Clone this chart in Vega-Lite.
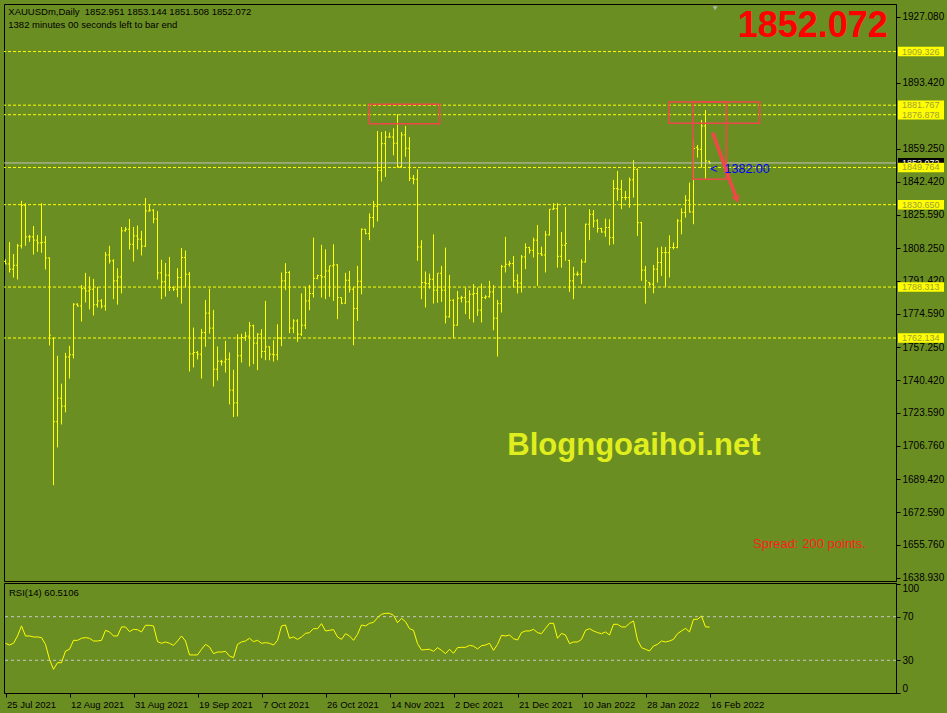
{
"$schema": "https://vega.github.io/schema/vega-lite/v6.json",
"background": "#6B8E23",
"padding": {"left": 3, "top": 3, "right": 2, "bottom": 6},
"config": {"font": "Liberation Sans", "view": {"stroke": "#000000", "strokeWidth": 1}, "axis": {"grid": false, "labelColor": "#000000", "domainColor": "#000000", "tickColor": "#000000", "domainWidth": 1, "tickWidth": 1}},
"datasets": {
"bars": [
{"i":0,"o":1801.5,"h":1802.6,"l":1800.0,"c":1800.2,"r":45.6},
{"i":1,"o":1800.2,"h":1811.5,"l":1795.8,"c":1797.5,"r":44.0},
{"i":2,"o":1797.5,"h":1805.3,"l":1793.2,"c":1799.5,"r":45.6},
{"i":3,"o":1799.5,"h":1810.5,"l":1792.2,"c":1809.5,"r":52.3},
{"i":4,"o":1809.5,"h":1832.6,"l":1808.1,"c":1830.3,"r":61.5},
{"i":5,"o":1830.3,"h":1831.4,"l":1809.5,"c":1814.1,"r":52.3},
{"i":6,"o":1814.1,"h":1815.1,"l":1811.5,"c":1814.1,"r":52.3},
{"i":7,"o":1814.1,"h":1819.7,"l":1805.0,"c":1812.4,"r":51.4},
{"i":8,"o":1812.4,"h":1815.1,"l":1806.4,"c":1811.0,"r":51.4},
{"i":9,"o":1811.0,"h":1831.4,"l":1805.9,"c":1811.3,"r":50.8},
{"i":10,"o":1811.3,"h":1814.6,"l":1797.3,"c":1803.3,"r":44.6},
{"i":11,"o":1803.3,"h":1803.5,"l":1758.3,"c":1763.6,"r":30.9},
{"i":12,"o":1762.0,"h":1762.4,"l":1686.5,"c":1719.1,"r":21.7},
{"i":13,"o":1719.1,"h":1753.0,"l":1705.9,"c":1731.2,"r":27.8},
{"i":14,"o":1731.2,"h":1738.7,"l":1717.7,"c":1727.1,"r":27.8},
{"i":15,"o":1727.1,"h":1754.5,"l":1723.9,"c":1752.4,"r":38.5},
{"i":16,"o":1752.4,"h":1758.1,"l":1741.3,"c":1753.5,"r":40.1},
{"i":17,"o":1753.5,"h":1780.0,"l":1751.6,"c":1779.5,"r":48.3},
{"i":18,"o":1779.5,"h":1780.0,"l":1778.3,"c":1778.6,"r":48.3},
{"i":19,"o":1778.6,"h":1789.4,"l":1770.6,"c":1787.5,"r":50.2},
{"i":20,"o":1787.5,"h":1795.6,"l":1780.4,"c":1786.3,"r":50.8},
{"i":21,"o":1786.3,"h":1793.7,"l":1776.8,"c":1787.2,"r":50.2},
{"i":22,"o":1787.2,"h":1792.5,"l":1773.7,"c":1779.2,"r":47.7},
{"i":23,"o":1779.2,"h":1788.4,"l":1777.8,"c":1781.2,"r":47.7},
{"i":24,"o":1781.2,"h":1782.1,"l":1777.3,"c":1778.5,"r":48.3},
{"i":25,"o":1778.5,"h":1806.4,"l":1776.2,"c":1804.8,"r":57.5},
{"i":26,"o":1804.8,"h":1809.5,"l":1800.4,"c":1801.8,"r":56.0},
{"i":27,"o":1801.8,"h":1802.6,"l":1782.1,"c":1791.5,"r":52.3},
{"i":28,"o":1791.5,"h":1798.0,"l":1779.3,"c":1793.5,"r":52.3},
{"i":29,"o":1793.5,"h":1819.2,"l":1785.0,"c":1817.2,"r":60.6},
{"i":30,"o":1817.2,"h":1819.2,"l":1816.8,"c":1818.0,"r":60.6},
{"i":31,"o":1818.0,"h":1823.3,"l":1807.6,"c":1810.3,"r":56.3},
{"i":32,"o":1810.3,"h":1819.2,"l":1801.4,"c":1814.6,"r":58.4},
{"i":33,"o":1814.6,"h":1819.9,"l":1807.6,"c":1812.9,"r":58.1},
{"i":34,"o":1812.9,"h":1817.2,"l":1804.5,"c":1809.3,"r":56.0},
{"i":35,"o":1809.3,"h":1834.1,"l":1808.9,"c":1827.4,"r":62.1},
{"i":36,"o":1827.4,"h":1830.5,"l":1827.1,"c":1827.8,"r":62.1},
{"i":37,"o":1827.8,"h":1828.3,"l":1821.1,"c":1823.3,"r":61.5},
{"i":38,"o":1823.3,"h":1827.4,"l":1792.2,"c":1795.6,"r":47.1},
{"i":39,"o":1795.6,"h":1802.3,"l":1782.1,"c":1791.0,"r":45.6},
{"i":40,"o":1791.0,"h":1800.7,"l":1783.4,"c":1794.4,"r":46.8},
{"i":41,"o":1794.4,"h":1803.8,"l":1786.3,"c":1788.1,"r":45.6},
{"i":42,"o":1788.1,"h":1788.7,"l":1786.3,"c":1787.2,"r":43.7},
{"i":43,"o":1787.2,"h":1798.0,"l":1783.1,"c":1793.2,"r":47.7},
{"i":44,"o":1793.2,"h":1808.4,"l":1779.8,"c":1803.5,"r":52.3},
{"i":45,"o":1803.5,"h":1807.1,"l":1788.1,"c":1794.9,"r":47.7},
{"i":46,"o":1794.9,"h":1796.1,"l":1744.9,"c":1754.0,"r":34.9},
{"i":47,"o":1754.0,"h":1767.5,"l":1747.0,"c":1754.7,"r":34.9},
{"i":48,"o":1754.7,"h":1755.5,"l":1751.1,"c":1753.8,"r":34.9},
{"i":49,"o":1753.8,"h":1766.8,"l":1741.3,"c":1764.9,"r":40.1},
{"i":50,"o":1764.9,"h":1781.7,"l":1757.6,"c":1774.9,"r":44.6},
{"i":51,"o":1774.9,"h":1787.5,"l":1764.4,"c":1767.2,"r":42.2},
{"i":52,"o":1767.2,"h":1776.6,"l":1737.2,"c":1746.1,"r":36.1},
{"i":53,"o":1746.1,"h":1757.8,"l":1740.3,"c":1750.2,"r":37.6},
{"i":54,"o":1750.2,"h":1750.9,"l":1748.0,"c":1749.9,"r":37.6},
{"i":55,"o":1749.9,"h":1760.7,"l":1744.4,"c":1751.2,"r":38.2},
{"i":56,"o":1751.2,"h":1754.7,"l":1728.0,"c":1735.3,"r":33.9},
{"i":57,"o":1735.3,"h":1745.8,"l":1721.5,"c":1728.8,"r":32.4},
{"i":58,"o":1728.8,"h":1764.1,"l":1721.8,"c":1753.0,"r":44.6},
{"i":59,"o":1753.0,"h":1764.3,"l":1749.5,"c":1762.4,"r":46.8},
{"i":60,"o":1762.4,"h":1765.3,"l":1760.7,"c":1763.1,"r":47.7},
{"i":61,"o":1763.1,"h":1770.4,"l":1747.5,"c":1768.4,"r":50.2},
{"i":62,"o":1768.4,"h":1769.0,"l":1748.7,"c":1759.5,"r":47.1},
{"i":63,"o":1759.5,"h":1764.6,"l":1745.6,"c":1764.1,"r":48.3},
{"i":64,"o":1764.1,"h":1766.7,"l":1751.8,"c":1755.2,"r":45.6},
{"i":65,"o":1755.2,"h":1781.2,"l":1750.7,"c":1757.6,"r":46.2},
{"i":66,"o":1757.6,"h":1757.9,"l":1750.7,"c":1753.8,"r":45.6},
{"i":67,"o":1753.8,"h":1761.0,"l":1750.0,"c":1753.5,"r":44.0},
{"i":68,"o":1753.5,"h":1769.2,"l":1750.7,"c":1762.0,"r":48.3},
{"i":69,"o":1762.0,"h":1795.8,"l":1757.9,"c":1791.5,"r":61.5},
{"i":70,"o":1791.5,"h":1800.6,"l":1786.7,"c":1795.8,"r":62.4},
{"i":71,"o":1795.8,"h":1796.6,"l":1764.6,"c":1767.2,"r":50.2},
{"i":72,"o":1767.2,"h":1771.8,"l":1764.6,"c":1770.9,"r":51.4},
{"i":73,"o":1770.9,"h":1771.8,"l":1760.1,"c":1764.1,"r":49.2},
{"i":74,"o":1764.1,"h":1785.1,"l":1763.2,"c":1768.7,"r":51.4},
{"i":75,"o":1768.7,"h":1788.4,"l":1766.7,"c":1781.2,"r":54.7},
{"i":76,"o":1781.2,"h":1789.4,"l":1776.4,"c":1785.0,"r":55.4},
{"i":77,"o":1785.0,"h":1813.7,"l":1782.9,"c":1792.8,"r":59.0},
{"i":78,"o":1792.8,"h":1794.6,"l":1792.3,"c":1794.2,"r":59.0},
{"i":79,"o":1794.2,"h":1810.0,"l":1782.9,"c":1793.5,"r":63.6},
{"i":80,"o":1793.5,"h":1807.7,"l":1782.1,"c":1796.6,"r":56.9},
{"i":81,"o":1796.6,"h":1799.2,"l":1783.3,"c":1799.2,"r":57.5},
{"i":82,"o":1799.2,"h":1810.3,"l":1781.2,"c":1799.7,"r":58.1},
{"i":83,"o":1799.7,"h":1800.0,"l":1771.8,"c":1782.9,"r":51.4},
{"i":84,"o":1782.9,"h":1782.9,"l":1779.5,"c":1780.0,"r":49.2},
{"i":85,"o":1780.0,"h":1795.6,"l":1779.8,"c":1791.8,"r":54.4},
{"i":86,"o":1791.8,"h":1796.6,"l":1785.5,"c":1787.2,"r":52.3},
{"i":87,"o":1787.2,"h":1788.4,"l":1758.4,"c":1777.3,"r":48.3},
{"i":88,"o":1777.3,"h":1799.2,"l":1770.9,"c":1791.3,"r":53.8},
{"i":89,"o":1791.3,"h":1818.4,"l":1784.6,"c":1818.0,"r":62.4},
{"i":90,"o":1818.0,"h":1818.2,"l":1815.4,"c":1815.8,"r":61.5},
{"i":91,"o":1815.8,"h":1826.2,"l":1812.4,"c":1824.0,"r":63.9},
{"i":92,"o":1824.0,"h":1832.6,"l":1818.9,"c":1829.8,"r":64.8},
{"i":93,"o":1829.8,"h":1868.5,"l":1822.0,"c":1848.3,"r":69.1},
{"i":94,"o":1848.3,"h":1868.0,"l":1842.5,"c":1862.0,"r":72.2},
{"i":95,"o":1862.0,"h":1868.5,"l":1844.9,"c":1865.4,"r":73.1},
{"i":96,"o":1865.4,"h":1867.7,"l":1865.1,"c":1865.4,"r":73.1},
{"i":97,"o":1865.4,"h":1869.9,"l":1856.0,"c":1862.2,"r":71.3},
{"i":98,"o":1862.2,"h":1877.1,"l":1849.7,"c":1850.2,"r":64.5},
{"i":99,"o":1850.2,"h":1868.0,"l":1849.7,"c":1866.5,"r":68.5},
{"i":100,"o":1866.5,"h":1871.1,"l":1855.2,"c":1859.6,"r":65.4},
{"i":101,"o":1859.6,"h":1865.4,"l":1842.8,"c":1844.2,"r":59.0},
{"i":102,"o":1844.2,"h":1845.9,"l":1841.1,"c":1843.7,"r":57.5},
{"i":103,"o":1843.7,"h":1848.8,"l":1801.8,"c":1808.9,"r":45.3},
{"i":104,"o":1808.9,"h":1812.4,"l":1782.1,"c":1790.6,"r":39.5},
{"i":105,"o":1790.6,"h":1796.3,"l":1777.8,"c":1790.1,"r":39.8},
{"i":106,"o":1790.1,"h":1795.2,"l":1787.5,"c":1792.3,"r":40.1},
{"i":107,"o":1792.3,"h":1815.4,"l":1779.8,"c":1786.7,"r":38.2},
{"i":108,"o":1786.7,"h":1795.4,"l":1780.2,"c":1795.4,"r":41.6},
{"i":109,"o":1795.4,"h":1799.2,"l":1780.7,"c":1786.7,"r":39.1},
{"i":110,"o":1786.7,"h":1808.6,"l":1769.6,"c":1773.0,"r":36.1},
{"i":111,"o":1773.0,"h":1794.6,"l":1772.6,"c":1781.5,"r":40.1},
{"i":112,"o":1781.5,"h":1782.1,"l":1762.0,"c":1768.7,"r":36.4},
{"i":113,"o":1768.7,"h":1786.3,"l":1768.5,"c":1782.6,"r":41.6},
{"i":114,"o":1782.6,"h":1783.8,"l":1780.4,"c":1782.9,"r":41.9},
{"i":115,"o":1782.9,"h":1788.1,"l":1774.4,"c":1780.7,"r":41.9},
{"i":116,"o":1780.7,"h":1786.7,"l":1771.8,"c":1784.6,"r":43.7},
{"i":117,"o":1784.6,"h":1789.8,"l":1770.1,"c":1785.0,"r":43.0},
{"i":118,"o":1785.0,"h":1788.1,"l":1773.5,"c":1776.4,"r":40.4},
{"i":119,"o":1776.4,"h":1790.1,"l":1770.1,"c":1782.9,"r":43.4},
{"i":120,"o":1782.9,"h":1784.1,"l":1782.1,"c":1783.3,"r":44.0},
{"i":121,"o":1783.3,"h":1791.5,"l":1782.9,"c":1785.8,"r":45.6},
{"i":122,"o":1785.8,"h":1789.3,"l":1766.1,"c":1772.3,"r":39.1},
{"i":123,"o":1772.3,"h":1781.7,"l":1752.6,"c":1779.8,"r":44.6},
{"i":124,"o":1779.8,"h":1799.7,"l":1775.2,"c":1798.8,"r":52.9},
{"i":125,"o":1798.8,"h":1814.1,"l":1795.8,"c":1800.0,"r":52.3},
{"i":126,"o":1800.0,"h":1801.8,"l":1798.8,"c":1800.4,"r":53.2},
{"i":127,"o":1800.4,"h":1804.3,"l":1788.1,"c":1791.5,"r":49.8},
{"i":128,"o":1791.5,"h":1794.9,"l":1785.0,"c":1790.3,"r":48.6},
{"i":129,"o":1790.3,"h":1804.8,"l":1785.5,"c":1803.8,"r":55.4},
{"i":130,"o":1803.8,"h":1810.8,"l":1797.5,"c":1808.6,"r":56.9},
{"i":131,"o":1808.6,"h":1809.0,"l":1805.5,"c":1807.2,"r":56.9},
{"i":132,"o":1807.2,"h":1813.7,"l":1803.5,"c":1812.4,"r":58.4},
{"i":133,"o":1812.4,"h":1820.2,"l":1788.9,"c":1805.5,"r":55.4},
{"i":134,"o":1805.5,"h":1809.1,"l":1804.3,"c":1804.8,"r":54.4},
{"i":135,"o":1804.8,"h":1817.2,"l":1795.8,"c":1815.1,"r":59.3},
{"i":136,"o":1815.1,"h":1828.3,"l":1814.8,"c":1828.3,"r":63.9},
{"i":137,"o":1828.3,"h":1831.4,"l":1828.0,"c":1828.6,"r":63.9},
{"i":138,"o":1828.6,"h":1831.4,"l":1798.3,"c":1804.1,"r":50.2},
{"i":139,"o":1804.1,"h":1816.6,"l":1798.3,"c":1809.8,"r":54.7},
{"i":140,"o":1809.8,"h":1829.5,"l":1801.8,"c":1810.7,"r":53.2},
{"i":141,"o":1802.0,"h":1802.3,"l":1785.8,"c":1791.5,"r":45.3},
{"i":142,"o":1791.5,"h":1798.7,"l":1782.1,"c":1794.9,"r":46.8},
{"i":143,"o":1794.9,"h":1796.3,"l":1794.0,"c":1794.9,"r":46.8},
{"i":144,"o":1794.9,"h":1802.6,"l":1789.8,"c":1801.2,"r":49.2},
{"i":145,"o":1801.2,"h":1820.9,"l":1800.9,"c":1820.6,"r":57.5},
{"i":146,"o":1820.6,"h":1828.3,"l":1812.4,"c":1825.7,"r":59.0},
{"i":147,"o":1825.7,"h":1827.9,"l":1818.9,"c":1822.3,"r":56.9},
{"i":148,"o":1822.3,"h":1823.2,"l":1816.3,"c":1818.4,"r":55.4},
{"i":149,"o":1818.4,"h":1818.8,"l":1816.3,"c":1816.6,"r":54.4},
{"i":150,"o":1816.6,"h":1823.5,"l":1814.1,"c":1818.9,"r":56.0},
{"i":151,"o":1818.9,"h":1823.2,"l":1809.8,"c":1813.7,"r":53.2},
{"i":152,"o":1813.7,"h":1843.4,"l":1810.3,"c":1838.9,"r":63.0},
{"i":153,"o":1838.9,"h":1848.0,"l":1832.6,"c":1838.6,"r":63.0},
{"i":154,"o":1838.6,"h":1843.4,"l":1828.3,"c":1834.3,"r":60.6},
{"i":155,"o":1834.3,"h":1837.7,"l":1832.9,"c":1834.3,"r":60.6},
{"i":156,"o":1834.3,"h":1844.6,"l":1829.1,"c":1843.4,"r":63.9},
{"i":157,"o":1843.4,"h":1853.5,"l":1834.3,"c":1848.8,"r":66.1},
{"i":158,"o":1848.8,"h":1849.3,"l":1814.6,"c":1821.4,"r":48.6},
{"i":159,"o":1821.4,"h":1821.8,"l":1791.5,"c":1797.0,"r":41.6},
{"i":160,"o":1797.0,"h":1799.2,"l":1779.8,"c":1791.5,"r":40.1},
{"i":161,"o":1790.6,"h":1790.8,"l":1788.9,"c":1789.8,"r":38.5},
{"i":162,"o":1789.8,"h":1799.7,"l":1785.1,"c":1797.5,"r":43.1},
{"i":163,"o":1797.5,"h":1808.6,"l":1790.6,"c":1800.9,"r":44.6},
{"i":164,"o":1800.9,"h":1809.1,"l":1794.0,"c":1806.0,"r":47.7},
{"i":165,"o":1806.0,"h":1808.9,"l":1788.4,"c":1806.0,"r":46.8},
{"i":166,"o":1806.0,"h":1814.9,"l":1793.2,"c":1808.6,"r":47.7},
{"i":167,"o":1808.6,"h":1811.2,"l":1807.7,"c":1808.6,"r":49.2},
{"i":168,"o":1808.6,"h":1823.2,"l":1808.3,"c":1822.3,"r":54.4},
{"i":169,"o":1822.3,"h":1828.8,"l":1815.4,"c":1826.6,"r":56.9},
{"i":170,"o":1826.6,"h":1835.5,"l":1824.0,"c":1832.9,"r":59.3},
{"i":171,"o":1832.9,"h":1842.0,"l":1826.6,"c":1826.9,"r":56.0},
{"i":172,"o":1826.9,"h":1864.0,"l":1820.6,"c":1859.5,"r":67.6},
{"i":173,"o":1860.0,"h":1861.3,"l":1854.8,"c":1859.1,"r":67.6},
{"i":174,"o":1859.1,"h":1874.2,"l":1849.7,"c":1871.1,"r":70.6},
{"i":175,"o":1871.1,"h":1879.3,"l":1844.0,"c":1853.1,"r":60.6},
{"i":176,"o":1852.951,"h":1853.144,"l":1851.508,"c":1852.072,"r":60.5106}
],
"levels": [{"p":1909.326},{"p":1881.767},{"p":1876.878},{"p":1849.764},{"p":1830.65},{"p":1788.313},{"p":1762.134}],
"bid": [{"p":1852.072}],
"frames": [
{"x1":90.95,"x2":108.55,"p1":1882.22,"p2":1872.25},
{"x1":165.9,"x2":188.55,"p1":1883.4,"p2":1872.46},
{"x1":171.9,"x2":180.2,"p1":1883.4,"p2":1843.68}
],
"arrow": [{"x1":176.8,"p1":1867.62,"x2":182.8,"p2":1833.4}]
},
"spacing": 2,
"bounds": "flush",
"resolve": {"scale": {"x": "independent", "y": "independent"}},
"vconcat": [
{
"width": 892,
"height": 577,
"resolve": {"axis": {"x": "independent", "y": "independent"}},
"layer": [
{"data": {"name": "bars"}, "mark": {"type": "rule", "color": "#FFFF00", "strokeWidth": 1},
 "encoding": {
  "x": {"field": "i", "type": "quantitative", "scale": {"domain": [-0.375, 222.625], "nice": false, "zero": false}, "axis": null},
  "y": {"field": "h", "type": "quantitative", "scale": {"domain": [1637.26, 1933.76], "nice": false, "zero": false},
        "axis": {"orient": "right", "values": [1927.08,1893.42,1859.25,1842.42,1825.59,1808.25,1791.42,1774.59,1757.25,1740.42,1723.59,1706.76,1689.42,1672.59,1655.76,1638.93], "format": ".3f", "labelFontSize": 10, "tickSize": 4, "labelPadding": 2, "title": null, "labelOverlap": false, "labelBaseline": "middle"}},
  "y2": {"field": "l"}}},
{"data": {"name": "bars"}, "mark": {"type": "rule", "color": "#FFFF00", "strokeWidth": 1, "xOffset": -1.5},
 "encoding": {"x": {"field": "i", "type": "quantitative", "axis": null}, "x2": {"field": "i"}, "y": {"field": "o", "type": "quantitative", "axis": null}}},
{"data": {"name": "bars"}, "mark": {"type": "rule", "color": "#FFFF00", "strokeWidth": 1, "x2Offset": 1.5},
 "encoding": {"x": {"field": "i", "type": "quantitative", "axis": null}, "x2": {"field": "i"}, "y": {"field": "c", "type": "quantitative", "axis": null}}},
{"data": {"name": "levels"}, "mark": {"type": "rule", "color": "#FFFF00", "strokeWidth": 1, "strokeDash": [3, 2]},
 "encoding": {"y": {"field": "p", "type": "quantitative", "axis": null}}},
{"data": {"name": "bid"}, "mark": {"type": "rule", "color": "#C0C0C0", "strokeWidth": 1},
 "encoding": {"y": {"field": "p", "type": "quantitative", "axis": null}}},
{"data": {"name": "frames"}, "mark": {"type": "rect", "filled": false, "stroke": "#F04848", "strokeWidth": 1.5},
 "encoding": {"x": {"field": "x1", "type": "quantitative", "axis": null}, "x2": {"field": "x2"}, "y": {"field": "p1", "type": "quantitative", "axis": null}, "y2": {"field": "p2"}}},
{"data": {"name": "arrow"}, "mark": {"type": "rule", "color": "#F04848", "strokeWidth": 3.5},
 "encoding": {"x": {"field": "x1", "type": "quantitative", "axis": null}, "x2": {"field": "x2"}, "y": {"field": "p1", "type": "quantitative", "axis": null}, "y2": {"field": "p2"}}},
{"data": {"name": "arrow"}, "mark": {"type": "point", "shape": "triangle-down", "filled": true, "color": "#F04848", "size": 70, "angle": 340, "opacity": 1},
 "encoding": {"x": {"field": "x2", "type": "quantitative", "axis": null}, "y": {"field": "p2", "type": "quantitative", "axis": null}}},
{"data": {"name": "bid"}, "mark": {"type": "rule", "color": "#000000", "strokeWidth": 10},
 "encoding": {"x": {"datum": 223.125, "type": "quantitative", "axis": null}, "x2": {"datum": 234.625}, "y": {"field": "p", "type": "quantitative", "axis": null}}},
{"data": {"name": "bid"}, "mark": {"type": "text", "color": "#FFFFFF", "fontSize": 9, "align": "left", "baseline": "middle"},
 "encoding": {"x": {"datum": 224.1, "type": "quantitative", "axis": null}, "y": {"field": "p", "type": "quantitative", "axis": null}, "text": {"field": "p", "type": "quantitative", "format": ".3f"}}},
{"data": {"name": "levels"}, "mark": {"type": "rule", "color": "#FFFF00", "strokeWidth": 9.5},
 "encoding": {"x": {"datum": 223.125, "type": "quantitative", "axis": null}, "x2": {"datum": 234.625}, "y": {"field": "p", "type": "quantitative", "axis": null}}},
{"data": {"name": "levels"}, "mark": {"type": "text", "color": "#9E9E3A", "fontSize": 9, "align": "left", "baseline": "middle"},
 "encoding": {"x": {"datum": 224.1, "type": "quantitative", "axis": null}, "y": {"field": "p", "type": "quantitative", "axis": null}, "text": {"field": "p", "type": "quantitative", "format": ".3f"}}},
{"data": {"values": [{"t": "XAUUSDm,Daily \u00a01852.951 1853.144 1851.508 1852.072"}]}, "mark": {"type": "text", "color": "#000000", "fontSize": 9.5, "align": "left", "baseline": "alphabetic"},
 "encoding": {"x": {"datum": 0.7, "type": "quantitative", "axis": null}, "y": {"datum": 1928.11, "type": "quantitative", "axis": null}, "text": {"field": "t"}}},
{"data": {"values": [{"t": "1382 minutes 00 seconds left to bar end"}]}, "mark": {"type": "text", "color": "#000000", "fontSize": 9.5, "align": "left", "baseline": "alphabetic"},
 "encoding": {"x": {"datum": 0.7, "type": "quantitative", "axis": null}, "y": {"datum": 1921.58, "type": "quantitative", "axis": null}, "text": {"field": "t"}}},
{"data": {"values": [{"t": "1852.072"}]}, "mark": {"type": "text", "color": "#FF0000", "fontSize": 36, "fontWeight": "bold", "align": "right", "baseline": "alphabetic"},
 "encoding": {"x": {"datum": 220.6, "type": "quantitative", "axis": null}, "y": {"datum": 1916.8, "type": "quantitative", "axis": null}, "text": {"field": "t"}}},
{"data": {"values": [{"t": "Blogngoaihoi.net"}]}, "mark": {"type": "text", "color": "#E1EE1E", "fontSize": 31, "fontWeight": "bold", "align": "center", "baseline": "alphabetic"},
 "encoding": {"x": {"datum": 157.1, "type": "quantitative", "axis": null}, "y": {"datum": 1701.86, "type": "quantitative", "axis": null}, "text": {"field": "t"}}},
{"data": {"values": [{"t": "Spread: 200 points."}]}, "mark": {"type": "text", "color": "#FF1E1E", "fontSize": 13, "align": "left", "baseline": "alphabetic"},
 "encoding": {"x": {"datum": 186.9, "type": "quantitative", "axis": null}, "y": {"datum": 1654.06, "type": "quantitative", "axis": null}, "text": {"field": "t"}}},
{"data": {"values": [{"t": "<\u00a0\u00a01382:00"}]}, "mark": {"type": "text", "color": "#0000FF", "fontSize": 12.5, "align": "left", "baseline": "middle"},
 "encoding": {"x": {"datum": 176.2, "type": "quantitative", "axis": null}, "y": {"datum": 1848.97, "type": "quantitative", "axis": null}, "text": {"field": "t"}}},
{"data": {"values": [{"t": "shift"}]}, "mark": {"type": "point", "shape": "triangle-down", "filled": true, "color": "#B4B4B4", "size": 22, "opacity": 1},
 "encoding": {"x": {"datum": 177.4, "type": "quantitative", "axis": null}, "y": {"datum": 1931.6, "type": "quantitative", "axis": null}}}
]
},
{
"width": 892,
"height": 110,
"resolve": {"axis": {"x": "independent", "y": "independent"}},
"layer": [
{"data": {"values": [{"v": 70}, {"v": 30}]}, "mark": {"type": "rule", "color": "#C8C8C8", "strokeWidth": 1, "strokeDash": [3, 3]},
 "encoding": {"y": {"field": "v", "type": "quantitative", "scale": {"domain": [0, 100.9], "nice": false, "zero": false}, "axis": null}}},
{"data": {"name": "bars"}, "mark": {"type": "line", "color": "#FFFF00", "strokeWidth": 1},
 "encoding": {
  "x": {"field": "i", "type": "quantitative", "scale": {"domain": [-0.375, 222.625], "nice": false, "zero": false},
        "axis": {"orient": "bottom", "values": [0,16,32,48,64,80,96,112,128,144,160,176], "labelExpr": "['25 Jul 2021','12 Aug 2021','31 Aug 2021','19 Sep 2021','7 Oct 2021','26 Oct 2021','14 Nov 2021','2 Dec 2021','21 Dec 2021','10 Jan 2022','28 Jan 2022','16 Feb 2022'][round(datum.value/16)]", "labelAlign": "left", "labelBaseline": "top", "labelFontSize": 9.5, "tickSize": 4, "labelPadding": 2, "labelOffset": 1, "title": null, "labelOverlap": false, "labelFlush": false}},
  "y": {"field": "r", "type": "quantitative", "scale": {"domain": [0, 100.9], "nice": false, "zero": false},
        "axis": {"orient": "right", "values": [0, 30, 70, 100], "labelFontSize": 10, "tickSize": 4, "labelPadding": 2, "title": null, "labelFlush": true, "labelOverlap": false}}}},
{"data": {"values": [{"t": "RSI(14) 60.5106"}]}, "mark": {"type": "text", "color": "#000000", "fontSize": 9.5, "align": "left", "baseline": "alphabetic"},
 "encoding": {"x": {"datum": 0.875, "type": "quantitative", "axis": null}, "y": {"datum": 89.0, "type": "quantitative", "axis": null}, "text": {"field": "t"}}}
]
}
]
}
